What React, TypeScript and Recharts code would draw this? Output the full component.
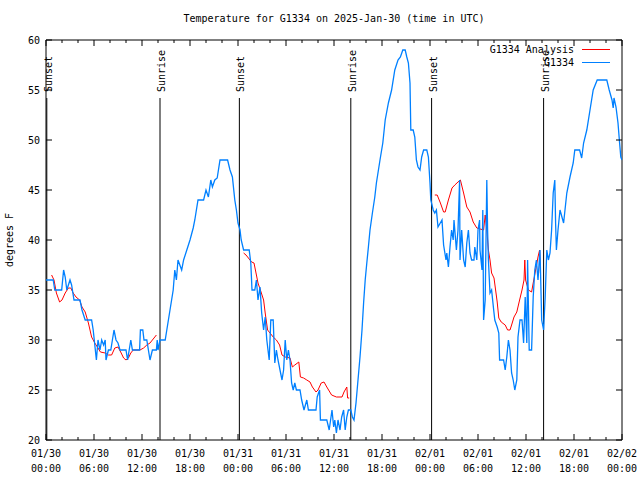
import React from "react";
import { LineChart, Line, XAxis, YAxis, ReferenceLine, ReferenceArea } from "recharts";

// hours since 01/30 00:00 UTC
const stationHours = [
  0, 0.9, 1.1, 1.96, 2.2, 2.4, 2.6, 3.0, 3.2, 3.5, 4.25, 4.5, 4.9, 5.7, 5.9, 6.1, 6.3, 6.5, 6.75, 6.96,
  7.2, 7.4, 7.5, 7.8, 8.1, 8.3, 8.5, 8.75, 9.0, 9.25, 10.0, 10.2, 10.4, 10.6, 10.8, 11.7, 11.8, 12.1, 12.25, 12.6,
  12.8, 13.0, 13.3, 13.8, 13.9, 14.0, 14.25, 14.9, 15.1, 15.5, 15.9, 16.1, 16.3, 16.5, 16.96, 17.2, 17.6, 18.0, 18.4, 18.6,
  19.0, 19.7, 20.0, 20.3, 20.6, 20.8, 21.1, 21.4, 21.75, 22.7, 23.0, 23.3, 23.6, 23.8, 24.0, 24.25, 24.4, 24.7, 25.4, 25.6,
  25.75, 26.1, 26.3, 26.5, 26.75, 26.96, 27.2, 27.4, 27.6, 27.9, 28.1, 28.4, 28.6, 28.8, 29.0, 29.25, 29.5, 29.7, 29.9, 30.1,
  30.3, 30.5, 30.7, 30.9, 31.1, 31.3, 31.75, 31.96, 32.25, 32.6, 32.8, 33.75, 33.9, 34.2, 34.3, 35.1, 35.4, 35.75, 35.96, 36.1,
  36.3, 36.5, 36.75, 36.96, 37.2, 37.4, 37.6, 37.8, 38.1, 38.3, 38.5, 38.75, 39.0, 39.25, 39.5, 39.7, 39.9, 40.1, 40.3, 40.5,
  40.8, 41.1, 41.3, 41.75, 42.1, 42.4, 42.8, 43.2, 43.6, 44.0, 44.3, 44.6, 44.9, 45.1, 45.3, 45.5, 45.6, 45.9, 46.1, 46.3,
  46.5, 46.75, 46.96, 47.2, 47.6, 47.8, 48.0, 48.1, 48.4, 48.6, 48.8, 49.0, 49.5, 49.7, 50.0, 50.1, 50.3, 50.5, 50.7, 50.9,
  51.0, 51.1, 51.3, 51.5, 51.7, 51.75, 51.96, 52.2, 52.4, 52.6, 52.8, 53.0, 53.2, 53.5, 53.6, 53.85, 54.0, 54.2, 54.25, 54.5,
  54.6, 54.7, 54.9, 55.1, 55.2, 55.3, 55.5, 55.7, 55.96, 56.1, 56.4, 56.6, 56.7, 57.2, 57.4, 57.6, 57.8, 58.0, 58.2, 58.4,
  58.6, 58.85, 59.0, 59.25, 59.5, 59.7, 59.9, 60.1, 60.2, 60.4, 60.7, 60.9, 61.1, 61.3, 61.5, 61.75, 61.96, 62.2, 62.4, 62.6,
  62.8, 63.0, 63.2, 63.4, 63.6, 63.7, 63.8, 64.0, 64.25, 64.7, 65.1, 65.5, 65.9, 66.1, 66.7, 66.96, 67.2, 67.6, 68.0, 68.4,
  68.9, 70.1, 70.4, 70.75, 70.9, 71.0, 71.25, 71.5, 71.7, 71.85, 72,
];
const stationTemps = [
  36, 36, 35, 35, 37, 36.3, 35, 36, 35.5, 34, 34, 33, 32, 32, 31, 29.5, 28, 30, 29, 30,
  29.5, 30, 28, 29, 29, 30, 31, 30, 29.7, 29, 29, 28, 29, 30, 29, 29, 31, 31, 30, 30,
  29, 28, 29, 29, 30, 29, 30, 30, 31, 33, 35, 37, 36, 38, 37, 38, 39, 40, 41.2, 42,
  44, 44, 45, 44.3, 46, 45.3, 46, 46.2, 48, 48, 47, 46.3, 44, 43, 41.7, 41, 40, 39, 39, 37.7,
  35, 35, 36, 34, 35.3, 32.7, 31, 32.3, 30, 28, 32, 32, 27.7, 29, 28, 27, 26, 27, 30, 28,
  29, 28, 25.7, 25, 25.7, 25, 25, 24, 23, 24, 23, 23, 24.3, 25, 22, 22, 21, 23, 21.3, 22,
  20.7, 22, 21, 22.3, 23, 21, 22.3, 23, 23, 22.3, 22, 23.7, 26, 28.3, 31, 33.7, 36, 37.7, 39.3, 41,
  42.7, 44.3, 45.7, 48, 49.7, 52, 53.7, 55, 57, 58, 58.3, 59, 59, 58.3, 57.7, 55.7, 51, 51, 50.3, 48,
  47.3, 47, 48.3, 49, 49, 48.3, 45.7, 44, 43, 42.7, 43, 41.3, 42, 39.5, 38, 38.7, 37.3, 39.3, 41, 40,
  42, 41, 39, 41, 46, 38, 41, 38, 37.3, 39.7, 41, 38.7, 38, 38, 39.3, 38, 41, 42, 39, 37,
  43, 32, 34, 46, 41, 38, 34.7, 35, 33, 32, 31.3, 30.7, 28, 28, 27, 28.3, 30, 29, 26.7, 26,
  25, 26, 30.3, 32, 32, 29.7, 34.3, 29.7, 38, 29, 29, 34.3, 37, 38, 36, 39, 32, 31, 34.3, 39,
  38, 38.7, 41, 44.7, 46, 41.7, 39, 41, 43, 41.7, 44.7, 46.3, 47.7, 49, 49, 48.2, 49.7, 51, 53, 55,
  56, 56, 55, 54, 53.2, 54.2, 53.3, 51.7, 49.7, 48.3, 48,
];

const analysisHours = [
  0.7, 1.0, 1.3, 1.7, 2.0, 2.4, 2.8, 3.1, 3.4, 3.75, 4.2, 4.5, 4.9, 5.3, 5.7, 6.1, 6.5, 6.8, 7.4, 7.8,
  8.2, 8.6, 9.0, 9.4, 9.7, 10.0, 10.3, 10.6, 10.9, 11.75, 12.2, 12.6, 13.0, 13.3, 13.6, 13.8,
  18,
  24.7, 25.0, 25.3, 25.7, 26.0, 26.25, 26.5, 26.8, 27.2, 27.4, 27.7, 28.0, 28.4, 28.8, 29.2, 29.5, 29.9, 30.5, 30.8,
  31.1, 31.6, 31.8, 32.2, 32.6, 33.0, 33.3, 33.75, 34.0, 34.4, 34.75, 35.1, 35.7, 36.3, 37.0, 37.25, 37.6, 37.7, 37.9,
  43,
  48.6, 48.9, 49.3, 49.7, 49.9, 50.3, 50.75, 51.1, 51.5, 51.8, 52.2, 52.6, 53.0, 53.4, 53.85, 54.7, 54.9, 55.1, 55.3, 55.5,
  55.7, 56.0, 56.25, 56.4, 56.6, 56.9, 57.4, 57.7, 58.0, 58.2, 58.5, 58.85, 59.2, 59.5, 59.75, 59.85, 59.95, 60.3, 60.7, 60.9,
  61.25, 61.5, 61.7, 61.8,
];
const analysisTemps = [
  36.5, 36, 34.7, 33.8, 34, 34.7, 35.2, 35.2, 34.7, 34.3, 34, 33.3, 32.8, 31.7, 30.3, 29.7, 29.2, 28.8, 28.7, 28.5,
  28.5, 29.2, 29.3, 28.7, 28.2, 28, 28.2, 28.7, 29, 29, 29.2, 29.5, 29.7, 30, 30.3, 30.5,
  null,
  38.7, 38.5, 38.2, 37.8, 37.7, 36.7, 35.7, 35, 34, 32.7, 31, 30.7, 30.3, 30, 29.5, 28.5, 28.3, 28.2, 27.3,
  27.5, 27.8, 26.3, 26.2, 26, 25.8, 25.3, 24.8, 25, 25.7, 25.8, 25.3, 24.5, 24.3, 24.3, 24.8, 25.3, 24.2, 24.2,
  null,
  44.5, 44.5, 43.7, 42.8, 42.8, 44, 45.2, 45.5, 45.8, 46, 44.7, 43.3, 42.8, 41.8, 41.2, 41, 42.5, 41, 39, 38,
  36.7, 36.2, 34.7, 33.8, 32.2, 31.8, 31.5, 31, 31, 31.5, 32.3, 32.8, 34, 35, 36, 38, 36, 35, 34.8, 35.7,
  37.2, 38.3, 39, 36.7,
];

const sunHours = [0.1, 14.25, 24.17, 38.1, 48.2, 62.2];
const sunNames = ["Sunset", "Sunrise", "Sunset", "Sunrise", "Sunset", "Sunrise"];

const xTicks = [0, 2, 4, 6, 8, 10, 12, 14, 16, 18, 20, 22, 24, 26, 28, 30, 32, 34, 36, 38, 40, 42, 44, 46, 48, 50, 52, 54, 56, 58, 60, 62, 64, 66, 68, 70, 72];
const dateLabels = ["01/30", "01/30", "01/30", "01/30", "01/31", "01/31", "01/31", "01/31", "02/01", "02/01", "02/01", "02/01", "02/02"];
const timeLabels = ["00:00", "06:00", "12:00", "18:00", "00:00", "06:00", "12:00", "18:00", "00:00", "06:00", "12:00", "18:00", "00:00"];
const yTicks = [20, 25, 30, 35, 40, 45, 50, 55, 60];

const seriesNames = ["G1334 Analysis", "G1334"];
const seriesColors = ["#ff0000", "#0080ff"];

const stationData = stationHours.map((h, i) => ({ h, t: stationTemps[i] }));
const analysisData = analysisHours.map((h, i) => ({ h, t: analysisTemps[i] }));

const FONT = "'DejaVu Sans Mono', monospace";
const TOP = 40;
const BOTTOM = 440;
const LEFT = 46;
const RIGHT = 622;

function XTick({ x, payload }: any) {
  const v = payload.value;
  const major = v % 6 === 0;
  const len = major ? 6 : 3;
  const i = v / 6;
  return (
    <g>
      <line x1={x} x2={x} y1={BOTTOM} y2={BOTTOM - len} stroke="#000" />
      <line x1={x} x2={x} y1={TOP} y2={TOP + len} stroke="#000" />
      {major && (
        <text x={x} y={457} textAnchor="middle" fontSize={10} fontFamily={FONT} fill="#000">
          {dateLabels[i]}
        </text>
      )}
      {major && (
        <text x={x} y={472} textAnchor="middle" fontSize={10} fontFamily={FONT} fill="#000">
          {timeLabels[i]}
        </text>
      )}
    </g>
  );
}

function YTick({ y, payload }: any) {
  return (
    <g>
      <line x1={LEFT} x2={LEFT + 6} y1={y} y2={y} stroke="#000" />
      <line x1={RIGHT - 6} x2={RIGHT} y1={y} y2={y} stroke="#000" />
      <text x={40} y={y + 4} textAnchor="end" fontSize={10} fontFamily={FONT} fill="#000">
        {payload.value}
      </text>
    </g>
  );
}

function SunLabel({ viewBox, text }: any) {
  if (!viewBox) return null;
  const tx = viewBox.x + 5;
  const ty = viewBox.y - 6;
  return (
    <text x={tx} y={ty} transform={`rotate(-90 ${tx} ${ty})`} fontSize={10} fontFamily={FONT} fill="#000">
      {text}
    </text>
  );
}

export default function App() {
  return (
    <div style={{ position: "absolute", left: 0, top: 0, width: 640, height: 480, background: "#fff" }}>
      <div
        style={{
          position: "absolute", left: LEFT, width: RIGHT - LEFT, top: 13, textAlign: "center",
          fontFamily: FONT, fontSize: 10, lineHeight: "12px",
        }}
      >
        Temperature for G1334 on 2025-Jan-30 (time in UTC)
      </div>
      <div style={{ position: "absolute", left: 10, top: 240, width: 0, height: 0 }}>
        <div
          style={{
            position: "absolute", transform: "translate(-50%, -50%) rotate(-90deg)", whiteSpace: "nowrap",
            fontFamily: FONT, fontSize: 10, lineHeight: "12px",
          }}
        >
          degrees F
        </div>
      </div>
      <LineChart width={640} height={480} margin={{ top: TOP, right: 640 - RIGHT, bottom: 0, left: 0 }}>
        <XAxis
          type="number"
          dataKey="h"
          domain={[0, 72]}
          ticks={xTicks}
          allowDataOverflow
          axisLine={false}
          tickLine={false}
          height={40}
          tick={<XTick />}
          interval={0}
        />
        <YAxis
          type="number"
          domain={[20, 60]}
          ticks={yTicks}
          allowDataOverflow
          axisLine={false}
          tickLine={false}
          width={LEFT}
          tick={<YTick />}
          interval={0}
        />
        {sunHours.map((h, i) => (
          <ReferenceLine
            key={i}
            segment={[{ x: h, y: 20 }, { x: h, y: 54.2 }]}
            stroke="#000"
            strokeWidth={1}
            label={(props: any) => <SunLabel {...props} text={sunNames[i]} />}
          />
        ))}
        <ReferenceArea x1={0} x2={72} y1={20} y2={60} fill="none" stroke="#000" strokeWidth={1} fillOpacity={0} />
        <Line
          data={analysisData}
          dataKey="t"
          name={seriesNames[0]}
          stroke={seriesColors[0]}
          strokeWidth={1}
          dot={false}
          connectNulls={false}
          isAnimationActive={false}
        />
        <Line
          data={stationData}
          dataKey="t"
          name={seriesNames[1]}
          stroke={seriesColors[1]}
          strokeWidth={1.3}
          dot={false}
          isAnimationActive={false}
        />
      </LineChart>
      <div style={{ position: "absolute", top: 43, left: 440, width: 170, fontFamily: FONT, fontSize: 10, color: "#000" }}>
        {seriesNames.map((n, i) => (
          <div key={n} style={{ display: "flex", justifyContent: "flex-end", alignItems: "center", height: 13 }}>
            <span>{n}</span>
            <span style={{ display: "inline-block", width: 28, marginLeft: 8, borderTop: `1px solid ${seriesColors[i]}` }} />
          </div>
        ))}
      </div>
    </div>
  );
}
